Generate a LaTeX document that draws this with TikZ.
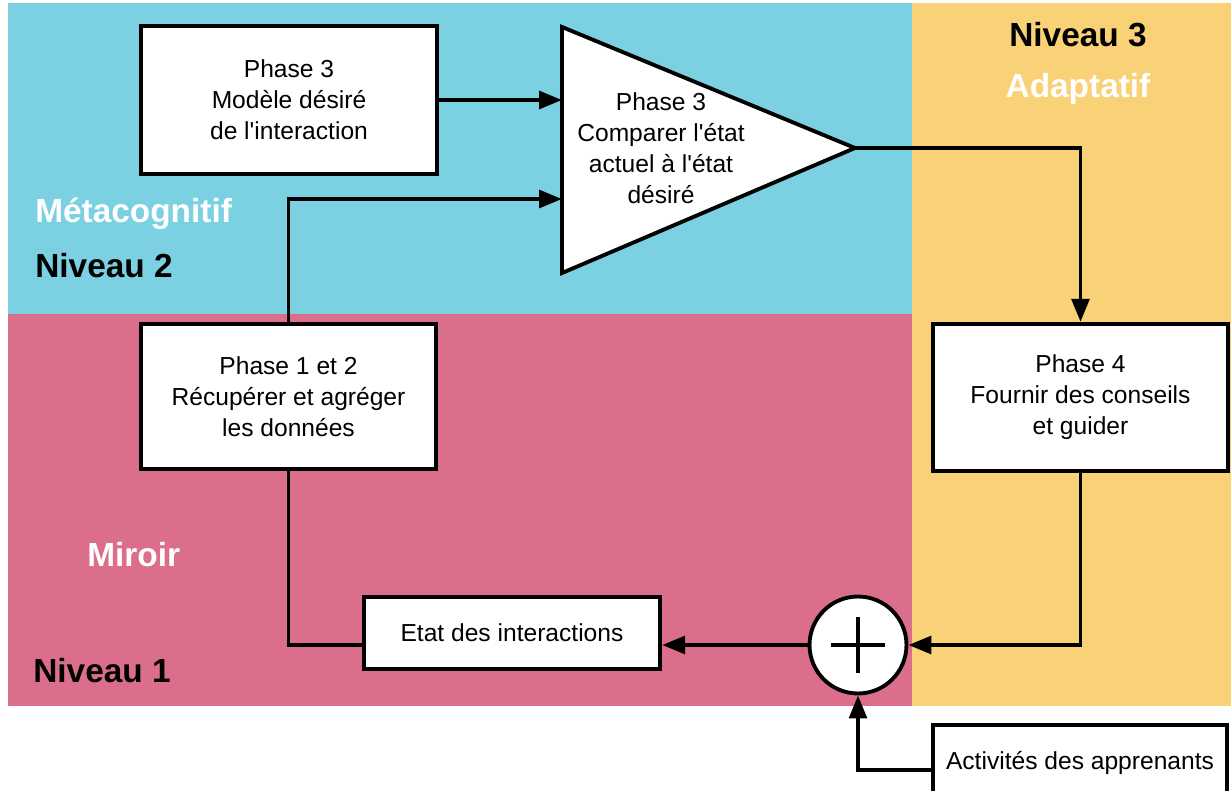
\documentclass[tikz,border=0pt]{standalone}
\usepackage{fontspec}
\setmainfont{Liberation Sans}
\usetikzlibrary{arrows.meta,calc}

\definecolor{metaBlue}{HTML}{7BD0E1}
\definecolor{mirrorPink}{HTML}{DB6F8B}
\definecolor{adaptGold}{HTML}{F9D176}

\tikzset{
  stepbox/.style={draw=black, line width=2.2pt, fill=white, align=center,
    inner sep=0pt, font=\fontsize{14}{17.6}\selectfont},
  levellabel/.style={font=\fontsize{19}{22}\selectfont\bfseries, inner sep=0pt},
  link/.style={line width=2.2pt, draw=black},
  arr/.style={link, -{Triangle[length=13pt,width=10pt]}},
}

\begin{document}
\begin{tikzpicture}[x=0.02cm, y=-0.02cm]
  \useasboundingbox (0,0) rectangle (1231,791);
  \fill[white] (0,0) rectangle (1231,791);

  % level bands
  \fill[metaBlue]   (8,3)   rectangle (912,314);
  \fill[mirrorPink] (8,314) rectangle (912,706);
  \fill[adaptGold]  (912,3) rectangle (1231,706);

  % level labels
  \node[levellabel, white, anchor=base west] (lblMeta)  at (35,222)  {Métacognitif};
  \node[levellabel, anchor=base west]        (lblN2)    at (35,277)  {Niveau 2};
  \node[levellabel, white, anchor=base west] (lblMir)   at (87,566)  {Miroir};
  \node[levellabel, anchor=base west]        (lblN1)    at (33,682)  {Niveau 1};
  \node[levellabel, anchor=base]             (lblN3)    at (1078,46) {Niveau 3};
  \node[levellabel, white, anchor=base]      (lblAdapt) at (1078,97) {Adaptatif};

  % comparator triangle
  \coordinate (triTop)  at (562,27);
  \coordinate (triBot)  at (562,273);
  \coordinate (apex)    at (855,148);
  \coordinate (inLow)   at (562,199);
  \draw[fill=white, line width=2.2pt, line join=miter] (triTop) -- (apex) -- (triBot) -- cycle;
  \node[align=center, inner sep=0pt, font=\fontsize{14}{17.6}\selectfont] (cmp) at (661,148)
    {Phase 3\\Comparer l\textquotesingle état\\actuel à l\textquotesingle état\\désiré};

  % step boxes
  \node[stepbox, minimum width=5.93cm, minimum height=2.97cm] (model) at (289,100)
    {Phase 3\\Modèle désiré\\de l\textquotesingle interaction};
  \node[stepbox, minimum width=5.91cm, minimum height=2.91cm] (collect) at (288.5,396.5)
    {Phase 1 et 2\\Récupérer et agréger\\les données};
  \node[stepbox, minimum width=5.91cm, minimum height=2.95cm] (advice) at (1080.5,397.5)
    {Phase 4\\Fournir des conseils\\et guider};
  \node[stepbox, minimum width=5.93cm, minimum height=1.45cm] (state) at (512,633)
    {Etat des interactions};
  \node[stepbox, minimum width=5.89cm, minimum height=1.5cm] (learners) at (1080,762.5)
    {Activités des apprenants};

  % summing junction
  \node[circle, draw=black, line width=2.2pt, fill=white, minimum size=1.94cm, inner sep=0pt] (sum) at (858,645) {};
  \draw[line width=1.8pt] ($(sum.center)+(-27,0)$) -- ($(sum.center)+(27,0)$);
  \draw[line width=1.8pt] ($(sum.center)+(0,-28)$) -- ($(sum.center)+(0,28)$);

  % connectors
  \draw[arr] (model.east) -- (model.east -| triTop);
  \draw[arr] (collect.north) |- (inLow);
  \draw[arr] (apex) -| (advice.north);
  \draw[arr] (advice.south) |- (sum.east);
  \draw[arr] (sum.west) -- (sum.west -| state.east);
  \draw[link] (collect.south) |- (state.west |- sum.west);
  \coordinate (learnIn) at ($(learners.west)+(0,7.5)$);
  \draw[arr] (learnIn) -| (sum.south);
\end{tikzpicture}
\end{document}
